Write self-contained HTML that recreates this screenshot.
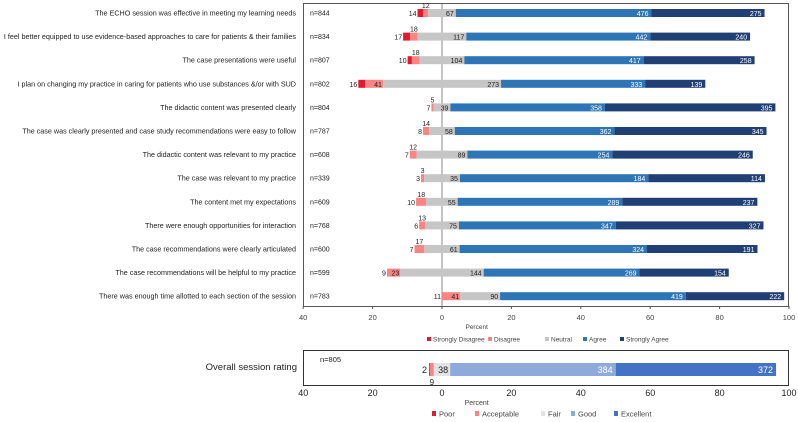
<!DOCTYPE html>
<html><head><meta charset="utf-8"><style>
body{margin:0;background:#fff;font-family:"Liberation Sans",sans-serif}
svg{display:block}
text{font-family:"Liberation Sans",sans-serif}
</style></head><body>
<svg id="c" width="798" height="422"></svg>
<script>
const questions=["The ECHO session was effective in meeting my learning needs","I feel better equipped to use evidence-based approaches to care for patients & their families","The case presentations were useful","I plan on changing my practice in caring for patients who use substances &/or with SUD","The didactic content was presented clearly","The case was clearly presented and case study recommendations were easy to follow","The didactic content was relevant to my practice","The case was relevant to my practice","The content met my expectations","There were enough opportunities for interaction","The case recommendations were clearly articulated","The case recommendations will be helpful to my practice","There was enough time allotted to each section of the session"];
const nVals=[844,834,807,802,804,787,608,339,609,768,600,599,783];
const sdVals=[14,17,10,16,7,8,7,3,10,6,7,9,11];
const dVals=[12,18,18,41,5,14,12,3,18,13,17,23,41];
const nuVals=[67,117,104,273,39,58,89,35,55,75,61,144,90];
const agVals=[476,442,417,333,358,362,254,184,289,347,324,269,419];
const saVals=[275,240,258,139,395,345,246,114,237,327,191,154,222];
const sdShown=[1,1,1,1,0,0,0,0,0,0,0,0,0];
const rowShift=[0,0,0,0,0,0,0,0,0,0,0,0,11];
const ticks=[40,20,0,20,40,60,80,100];
const tickVals=[-40,-20,0,20,40,60,80,100];
const overallVals=[2,9,38,384,372];
const overallN=805;

const svg=document.getElementById('c');
const NS='http://www.w3.org/2000/svg';
function el(t,a,txt){const e=document.createElementNS(NS,t);for(const k in a)e.setAttribute(k,a[k]);if(txt!==undefined)e.textContent=txt;svg.appendChild(e);return e;}
const X=p=>442+p*3.47;
const rowY=i=>13+i*23.6;
const C={sd:'#e01b2f',d:'#f98484',nu:'#c6c6c6',ag:'#2e75b6',sa:'#203f74'};

let f=el('rect',{x:303.5,y:3.5,width:485,height:303,fill:'none',stroke:'#555','stroke-width':1});

let zl=el('line',{x1:X(0),x2:X(0),y1:4,y2:306,stroke:'#888','stroke-width':1});


questions.forEach((q,i)=>{
  const y=rowY(i),n=nVals[i],h=8;
  let t=el('text',{x:296,y:y+2.5,'text-anchor':'end','font-size':7.2,fill:'#222'},q);
  
  t=el('text',{x:310,y:y+2.5,'font-size':7,fill:'#222'},'n='+n);
  
  const sdw=sdShown[i]?sdVals[i]:0;
  let start=-(sdw+dVals[i]+nuVals[i]/2)/n*100+rowShift[i];
  const segs=[[sdw,C.sd,'sd'],[dVals[i],C.d,'d'],[nuVals[i],C.nu,'nu'],[agVals[i],C.ag,'ag'],[saVals[i],C.sa,'sa']];
  let p=start;const pos={};
  segs.forEach(([v,c,k])=>{const w=v/n*100;pos[k]=[p,p+w];
    if(w>0){const r=el('rect',{x:X(p),y:y-h/2,width:w*3.47,height:h,fill:c});
    }
    p+=w;});
  let lx=X(pos.sd[0])-1;
  t=el('text',{x:lx,y:y+3,'text-anchor':'end','font-size':7,fill:'#222'},sdVals[i]);
  
  const dw=(pos.d[1]-pos.d[0])*3.47;
  if(dw>12){t=el('text',{x:X(pos.d[1])-1,y:y+3,'text-anchor':'end','font-size':7,fill:'#222'},dVals[i]);}
  else{t=el('text',{x:(X(pos.d[0])+X(pos.d[1]))/2,y:y-5,'text-anchor':'middle','font-size':7,fill:'#222'},dVals[i]);}
  
  t=el('text',{x:X(pos.nu[1])-2,y:y+3,'text-anchor':'end','font-size':7,fill:'#222'},nuVals[i]);
  
  t=el('text',{x:X(pos.ag[1])-3,y:y+3,'text-anchor':'end','font-size':7,fill:'#fff'},agVals[i]);
  
  t=el('text',{x:X(pos.sa[1])-3,y:y+3,'text-anchor':'end','font-size':7,fill:'#fff'},saVals[i]);
  
});
ticks.forEach((tk,i)=>{
  let t=el('text',{x:X(tickVals[i]),y:320,'text-anchor':'middle','font-size':7.5,fill:'#444'},tk);
  
  let l=el('line',{x1:X(tickVals[i]),x2:X(tickVals[i]),y1:306,y2:309,stroke:'#555'});
  
});
let tt=el('text',{x:X(10),y:329,'text-anchor':'middle','font-size':6.5,fill:'#444'},'Percent');

const leg1=[['Strongly Disagree',C.sd,427],['Disagree',C.d,488],['Neutral',C.nu,545],['Agree',C.ag,583],['Strongly Agree',C.sa,620]];
leg1.forEach(([l,c,x])=>{
  let r=el('rect',{x:x,y:337,width:4,height:4,fill:c});
  let t=el('text',{x:x+6,y:341.5,'font-size':6.5,fill:'#444'},l);
});

f=el('rect',{x:303.5,y:350.5,width:485,height:35,fill:'none',stroke:'#333','stroke-width':1});

let ol=el('text',{x:297,y:370,'text-anchor':'end','font-size':9.5,fill:'#222'},'Overall session rating');

ol=el('text',{x:320,y:362,'font-size':7.5,fill:'#222'},'n='+overallN);

const OC=['#e01b2f','#f98484','#e3e3e3','#8eaadb','#4472c4'];
const okeys=['poor','acceptable','fair','good','excellent'];
let op=-(overallVals[0]+overallVals[1]+overallVals[2]/2)/overallN*100;const opos=[];
overallVals.forEach((v,i)=>{const w=v/overallN*100;opos.push([op,op+w]);
  let r=el('rect',{x:X(op),y:363,width:w*3.47,height:13,fill:OC[i]});
  op+=w;});
let ot=el('text',{x:X(opos[0][0])-2,y:373,'text-anchor':'end','font-size':9,fill:'#222'},overallVals[0]);

ot=el('text',{x:(X(opos[1][0])+X(opos[1][1]))/2,y:385,'text-anchor':'middle','font-size':8,fill:'#222'},overallVals[1]);

ot=el('text',{x:X(opos[2][1])-2,y:373,'text-anchor':'end','font-size':9,fill:'#222'},overallVals[2]);

ot=el('text',{x:X(opos[3][1])-3,y:373,'text-anchor':'end','font-size':9,fill:'#fff'},overallVals[3]);

ot=el('text',{x:X(opos[4][1])-3,y:373,'text-anchor':'end','font-size':9,fill:'#fff'},overallVals[4]);

ticks.forEach((tk,i)=>{
  let t=el('text',{x:X(tickVals[i]),y:396,'text-anchor':'middle','font-size':9,fill:'#222'},tk);
  
});
tt=el('text',{x:X(10),y:405,'text-anchor':'middle','font-size':7,fill:'#444'},'Percent');

const leg2=[['Poor',OC[0],432],['Acceptable',OC[1],475],['Fair',OC[2],541],['Good',OC[3],571],['Excellent',OC[4],614]];
leg2.forEach(([l,c,x])=>{
  let r=el('rect',{x:x,y:411,width:4,height:5,fill:c});
  let t=el('text',{x:x+7,y:416.5,'font-size':7.5,fill:'#444'},l);
});
</script>
</body></html>
